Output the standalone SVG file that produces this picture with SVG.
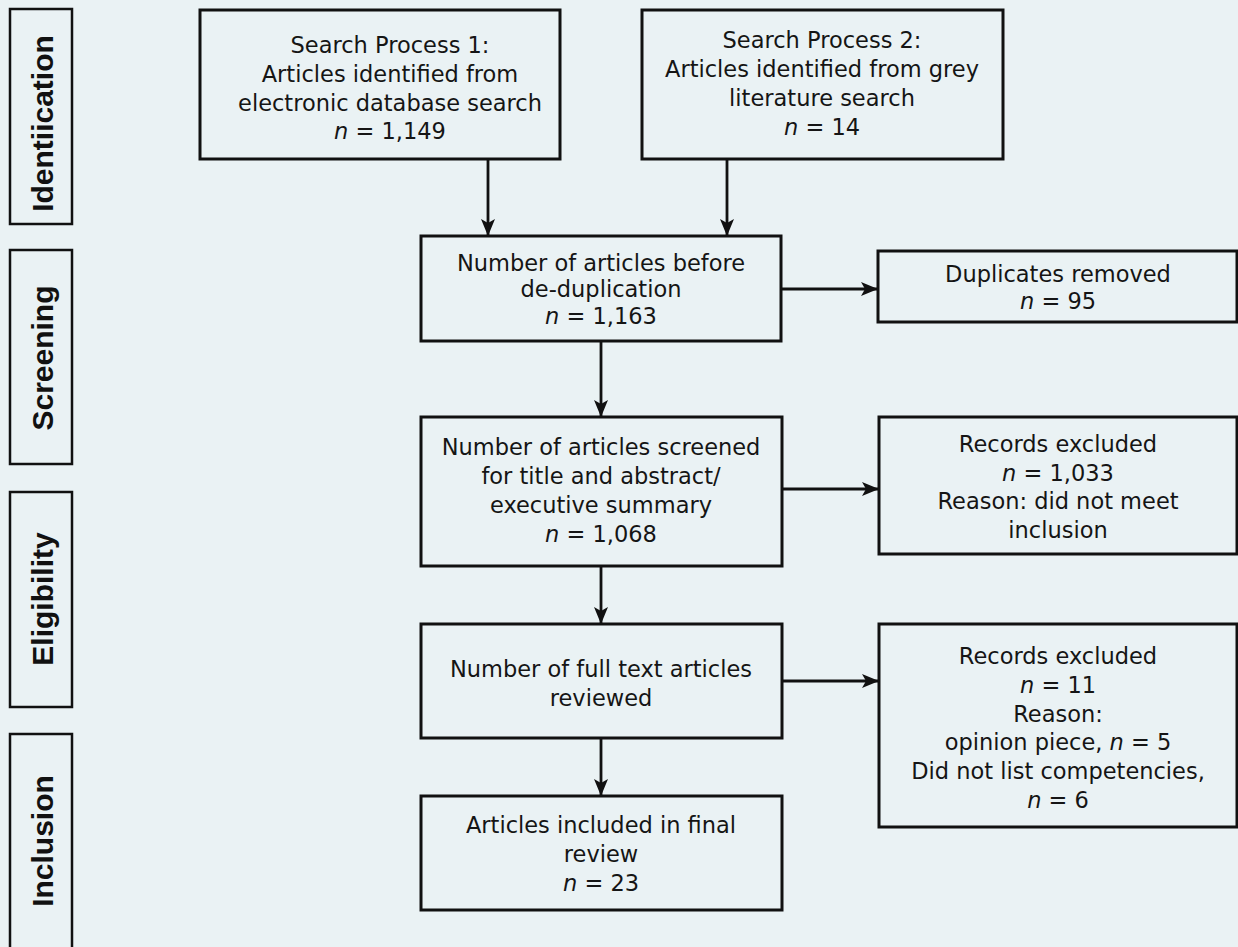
<svg xmlns="http://www.w3.org/2000/svg" width="1238" height="947" viewBox="0 0 1238 947">
<defs>
<style>
.bg{fill:#eaf2f4}
.box{fill:#eaf2f4;stroke:#111;stroke-width:3}
.side{fill:#eaf2f4;stroke:#111;stroke-width:2.5}
.t{font-family:"DejaVu Sans","Liberation Sans",sans-serif;font-size:22.5px;fill:#151515;text-anchor:middle}
.s{font-family:"Liberation Sans",Arial,sans-serif;font-size:30px;font-weight:bold;fill:#111;text-anchor:middle}
.i{font-style:italic}
.c{stroke:#111;stroke-width:2.8;fill:none;marker-end:url(#ah)}
</style>
<marker id="ah" markerUnits="userSpaceOnUse" markerWidth="18" markerHeight="14" refX="17" refY="7" orient="auto">
<path d="M0,0 L17,7 L0,14 L4,7 Z" fill="#111"/>
</marker>
</defs>
<rect class="bg" x="0" y="0" width="1238" height="947"/>

<g id="stage-identification">
<rect class="side" x="10" y="9" width="62" height="215"/>
<text class="s" transform="translate(53,123.5) rotate(-90)">Identiication</text>
</g>
<g id="stage-screening">
<rect class="side" x="10" y="250" width="62" height="214"/>
<text class="s" transform="translate(53,358) rotate(-90)">Screening</text>
</g>
<g id="stage-eligibility">
<rect class="side" x="10" y="492" width="62" height="215"/>
<text class="s" transform="translate(53,599) rotate(-90)">Eligibility</text>
</g>
<g id="stage-inclusion">
<rect class="side" x="10" y="734" width="62" height="220"/>
<text class="s" transform="translate(53,841) rotate(-90)">Inclusion</text>
</g>

<g id="connectors">
<line class="c" x1="488" y1="159" x2="488" y2="236"/>
<line class="c" x1="727" y1="159" x2="727" y2="236"/>
<line class="c" x1="781" y1="289" x2="878" y2="289"/>
<line class="c" x1="601" y1="341" x2="601" y2="417"/>
<line class="c" x1="782" y1="489" x2="879" y2="489"/>
<line class="c" x1="601" y1="566" x2="601" y2="624"/>
<line class="c" x1="782" y1="681" x2="879" y2="681"/>
<line class="c" x1="601" y1="738" x2="601" y2="796"/>
</g>

<g id="search1">
<rect class="box" x="200" y="10" width="360" height="149"/>
<text class="t" x="390" y="53">Search Process 1:</text>
<text class="t" x="390" y="82">Articles identified from</text>
<text class="t" x="390" y="110.5">electronic database search</text>
<text class="t" x="390" y="139"><tspan class="i">n</tspan> = 1,149</text>
</g>

<g id="search2">
<rect class="box" x="642" y="10" width="361" height="149"/>
<text class="t" x="822" y="48">Search Process 2:</text>
<text class="t" x="822" y="77">Articles identified from grey</text>
<text class="t" x="822" y="106">literature search</text>
<text class="t" x="822" y="135"><tspan class="i">n</tspan> = 14</text>
</g>

<g id="before-dedup">
<rect class="box" x="421" y="236" width="360" height="105"/>
<text class="t" x="601" y="270.5">Number of articles before</text>
<text class="t" x="601" y="297">de-duplication</text>
<text class="t" x="601" y="323.5"><tspan class="i">n</tspan> = 1,163</text>
</g>

<g id="duplicates">
<rect class="box" x="878" y="251" width="359" height="71"/>
<text class="t" x="1058" y="282">Duplicates removed</text>
<text class="t" x="1058" y="309"><tspan class="i">n</tspan> = 95</text>
</g>

<g id="screened">
<rect class="box" x="421" y="417" width="361" height="149"/>
<text class="t" x="601" y="455">Number of articles screened</text>
<text class="t" x="601" y="484">for title and abstract/</text>
<text class="t" x="601" y="513">executive summary</text>
<text class="t" x="601" y="542"><tspan class="i">n</tspan> = 1,068</text>
</g>

<g id="excluded1">
<rect class="box" x="879" y="417" width="358" height="137"/>
<text class="t" x="1058" y="452">Records excluded</text>
<text class="t" x="1058" y="481"><tspan class="i">n</tspan> = 1,033</text>
<text class="t" x="1058" y="509">Reason: did not meet</text>
<text class="t" x="1058" y="538">inclusion</text>
</g>

<g id="fulltext">
<rect class="box" x="421" y="624" width="361" height="114"/>
<text class="t" x="601" y="677">Number of full text articles</text>
<text class="t" x="601" y="706">reviewed</text>
</g>

<g id="excluded2">
<rect class="box" x="879" y="624" width="358" height="203"/>
<text class="t" x="1058" y="664">Records excluded</text>
<text class="t" x="1058" y="693"><tspan class="i">n</tspan> = 11</text>
<text class="t" x="1058" y="722">Reason:</text>
<text class="t" x="1058" y="750">opinion piece, <tspan class="i">n</tspan> = 5</text>
<text class="t" x="1058" y="779">Did not list competencies,</text>
<text class="t" x="1058" y="808"><tspan class="i">n</tspan> = 6</text>
</g>

<g id="included">
<rect class="box" x="421" y="796" width="361" height="114"/>
<text class="t" x="601" y="833">Articles included in final</text>
<text class="t" x="601" y="862">review</text>
<text class="t" x="601" y="891"><tspan class="i">n</tspan> = 23</text>
</g>
</svg>
